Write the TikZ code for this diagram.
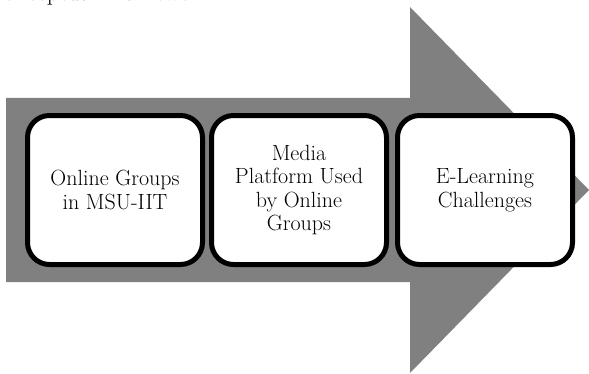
\documentclass[tikz,border=0pt]{standalone}
\usetikzlibrary{positioning}
\definecolor{arrowgray}{RGB}{128,128,128}
\tikzset{
  stage/.style={draw, line width=5pt, rounded corners=22pt, fill=white,
    minimum width=175pt, minimum height=149pt, align=center, inner sep=2pt,
    font=\fontsize{22}{23.5}\selectfont},
}

\begin{document}
\begin{tikzpicture}[x=1pt,y=1pt]
  \useasboundingbox (0,0) rectangle (589,373);
  \clip (0,0) rectangle (589,373);
  % heading, only its lower edge is on the page
  \node[anchor=base west, inner sep=0pt, font=\fontsize{24}{28}\selectfont] (title) at (-12,372) {Conceptual Framework};
  % big arrow behind the three stages
  \fill[arrowgray] (6,91) -- (410,91) -- (410,0) -- (589,183) -- (410,366) -- (410,275) -- (6,275) -- cycle;
  \node[stage] (groups) at (115,183) {Online Groups\\in MSU-IIT};
  \node[stage, right=4pt of groups] (media) {Media\\Platform Used\\by Online\\Groups};
  \node[stage, right=6pt of media] (challenges) {E-Learning\\Challenges};
\end{tikzpicture}
\end{document}
